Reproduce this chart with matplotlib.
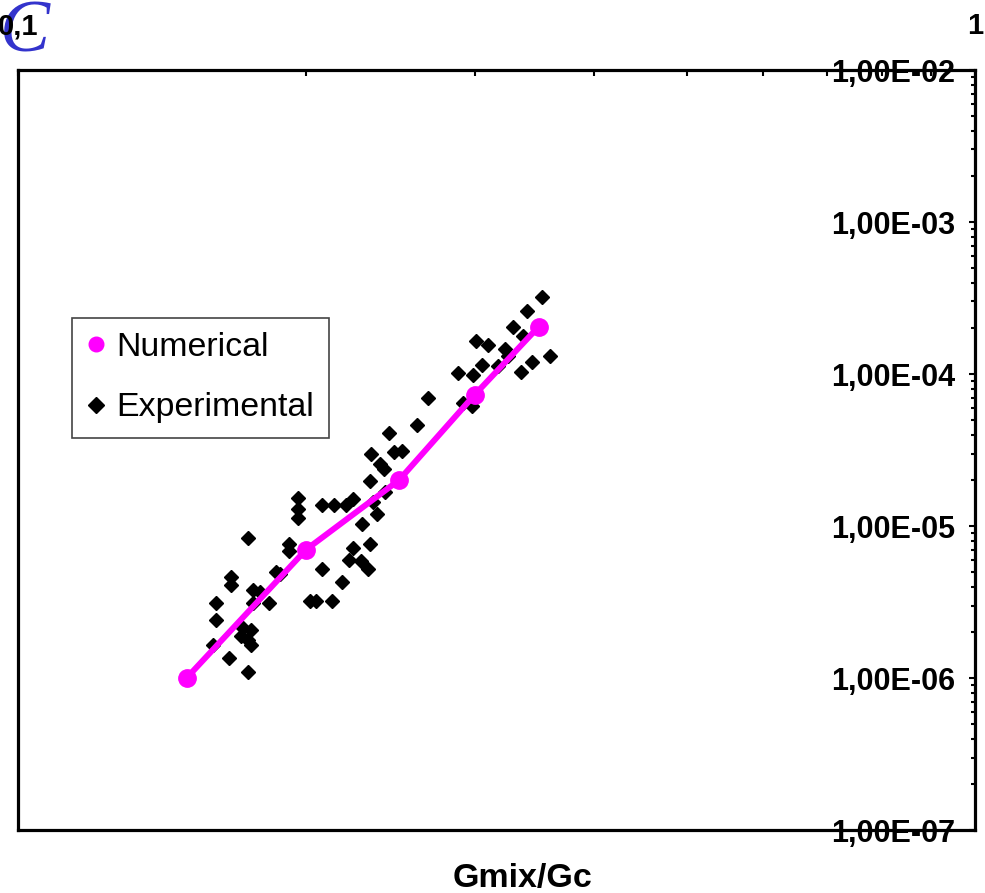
import matplotlib
matplotlib.use('Agg')
import matplotlib.pyplot as plt
from matplotlib.lines import Line2D
from matplotlib.ticker import FixedLocator, LogLocator, NullFormatter, FuncFormatter

plt.rcParams['font.family'] = ['Liberation Sans', 'DejaVu Sans']

# numerical results (magenta line)
numX = [0.15, 0.20, 0.25, 0.30, 0.35]
numY = [1.0e-6, 7.0e-6, 2.0e-5, 7.3e-5, 2.05e-4]

# experimental points (black diamonds)
expX = [0.353, 0.340, 0.329, 0.337, 0.301, 0.310, 0.323, 0.325, 0.360, 0.344,
        0.305, 0.317, 0.335, 0.288, 0.299, 0.268, 0.292, 0.298, 0.261, 0.244,
        0.234, 0.247, 0.252, 0.239, 0.241, 0.233, 0.242, 0.224, 0.235, 0.237,
        0.196, 0.196, 0.196, 0.208, 0.214, 0.220, 0.229, 0.233, 0.224, 0.222,
        0.228, 0.232, 0.174, 0.192, 0.192, 0.186, 0.188, 0.208, 0.218, 0.202,
        0.205, 0.213,
        0.167, 0.167, 0.176, 0.179, 0.161, 0.176, 0.183, 0.161, 0.172, 0.175,
        0.171, 0.174, 0.175, 0.160, 0.166, 0.174]
expY = [3.23e-4, 2.61e-4, 2.05e-4, 1.79e-4, 1.66e-4, 1.56e-4, 1.47e-4, 1.32e-4, 1.32e-4, 1.20e-4,
        1.15e-4, 1.13e-4, 1.03e-4, 1.02e-4, 9.9e-5, 7.0e-5, 6.4e-5, 6.2e-5, 4.6e-5, 4.1e-5,
        3.0e-5, 3.07e-5, 3.11e-5, 2.56e-5, 2.37e-5, 1.98e-5, 1.67e-5, 1.50e-5, 1.44e-5, 1.20e-5,
        1.53e-5, 1.29e-5, 1.13e-5, 1.37e-5, 1.37e-5, 1.37e-5, 1.03e-5, 7.6e-6, 7.2e-6, 6.0e-6,
        5.9e-6, 5.2e-6, 8.4e-6, 7.6e-6, 6.8e-6, 5.0e-6, 4.8e-6, 5.2e-6, 4.3e-6, 3.2e-6,
        3.2e-6, 3.2e-6,
        4.6e-6, 4.1e-6, 3.8e-6, 3.7e-6, 3.1e-6, 3.1e-6, 3.1e-6, 2.4e-6, 2.15e-6, 2.06e-6,
        1.90e-6, 1.79e-6, 1.66e-6, 1.66e-6, 1.36e-6, 1.09e-6]

xTicks = [0.1, 1]
xTickLabels = ['0,1', '1']
yTicks = [1e-7, 1e-6, 1e-5, 1e-4, 1e-3, 1e-2]

fig = plt.figure(figsize=(9.85, 8.93), dpi=100)
ax = fig.add_axes([0.0183, 0.0705, 0.9716, 0.8511])

ax.plot(expX, expY, ls='none', marker='D', ms=7.5, color='black', zorder=2)
ax.plot(numX, numY, ls='-', lw=4.3, marker='o', ms=12.5, color='#ff00ff', zorder=3)

ax.set_xscale('log')
ax.set_yscale('log')
ax.set_xlim(0.1, 1)
ax.set_ylim(1e-7, 1e-2)

# x axis: ticks and labels on top
ax.xaxis.tick_top()
ax.xaxis.set_major_locator(FixedLocator(xTicks))
ax.set_xticklabels(xTickLabels)
ax.xaxis.set_minor_locator(LogLocator(base=10, subs=range(2, 10)))
ax.xaxis.set_minor_formatter(NullFormatter())
ax.tick_params(axis='x', which='both', direction='in', top=True, bottom=False,
               labeltop=True, labelbottom=False, width=1.5)
ax.tick_params(axis='x', which='major', length=4, pad=21.5, labelsize=21)
ax.tick_params(axis='x', which='minor', length=4)
for lab in ax.get_xticklabels():
    lab.set_fontweight('bold')

# y axis: ticks on right, labels inside the box
ax.yaxis.tick_right()
ax.yaxis.set_major_locator(FixedLocator(yTicks))
ax.yaxis.set_major_formatter(FuncFormatter(lambda v, p: f'{v:.2E}'.replace('.', ',')))
ax.yaxis.set_minor_locator(LogLocator(base=10, subs=range(2, 10)))
ax.yaxis.set_minor_formatter(NullFormatter())
ax.tick_params(axis='y', which='both', direction='in', left=False, right=True,
               labelleft=False, labelright=True, width=1.5)
ax.tick_params(axis='y', which='major', length=4.5, pad=-14.4, labelsize=22)
ax.tick_params(axis='y', which='minor', length=3.2)
for lab in ax.get_yticklabels():
    lab.set_horizontalalignment('right')
    lab.set_fontweight('bold')

for sp in ax.spines.values():
    sp.set_linewidth(2.3)

ax.set_xlabel('Gmix/Gc', fontsize=24.5, fontweight='bold')
ax.xaxis.set_label_position('bottom')
ax.xaxis.set_label_coords(0.527, -0.043)

handles = [Line2D([], [], ls='none', marker='o', ms=10.5, color='#ff00ff'),
           Line2D([], [], ls='none', marker='D', ms=8, color='black')]
leg = ax.legend(handles, ['Numerical', 'Experimental'], loc='upper left',
                bbox_to_anchor=(0.0564, 0.6737), borderaxespad=0, fontsize=24.4,
                fancybox=False, framealpha=1, handlelength=0.6, handletextpad=0.3,
                borderpad=0.42, labelspacing=0.86)
leg.get_frame().set_edgecolor('#444444')
leg.get_frame().set_linewidth(1.2)

# panel letter, drawn behind the axes texts
fig.text(0.0, 0.942, 'C', fontsize=54, style='italic', color='#3333cc',
         family='Liberation Serif', ha='left', va='baseline', zorder=-1)

fig.savefig('out.png', dpi=100)
